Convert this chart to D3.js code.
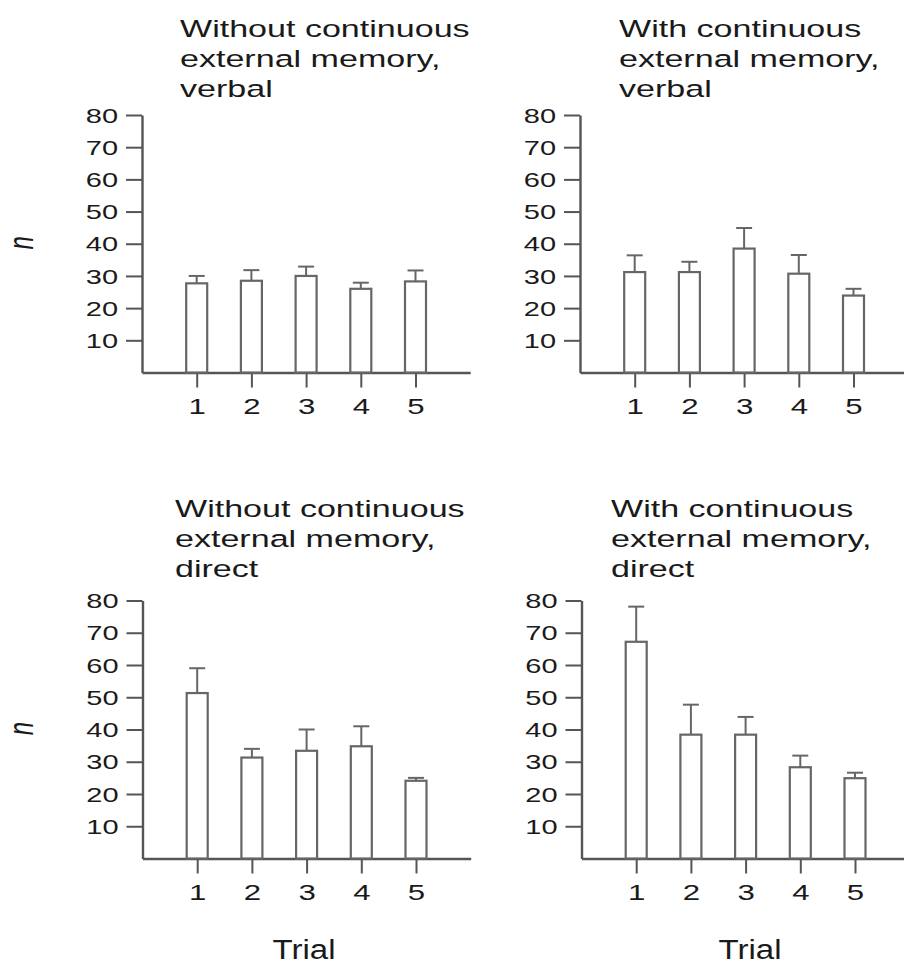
<!DOCTYPE html>
<html>
<head>
<meta charset="utf-8">
<script src="https://cdn.jsdelivr.net/npm/d3@7/dist/d3.min.js"></script>
<style>
  html, body { margin: 0; padding: 0; background: #fff; }
  svg { display: block; }
  text { font-family: "Liberation Sans", Arial, Helvetica, sans-serif; fill: #1a1a1a; }
</style>
</head>
<body>
<svg id="chart" width="904" height="967"></svg>
<script>
// ---------------- data ----------------
const trials = [1, 2, 3, 4, 5];
const yTicks = [10, 20, 30, 40, 50, 60, 70, 80];

const titleWithoutVerbal = ["Without continuous", "external memory,", "verbal"];
const titleWithVerbal    = ["With continuous", "external memory,", "verbal"];
const titleWithoutDirect = ["Without continuous", "external memory,", "direct"];
const titleWithDirect    = ["With continuous", "external memory,", "direct"];

const meanWithoutVerbal = [27.7, 28.5, 30.0, 26.0, 28.3];
const errWithoutVerbal  = [2.3, 3.3, 2.9, 1.9, 3.4];

const meanWithVerbal = [31.2, 31.2, 38.5, 30.7, 23.9];
const errWithVerbal  = [5.2, 3.2, 6.4, 5.8, 2.1];

const meanWithoutDirect = [51.3, 31.3, 33.4, 34.8, 24.1];
const errWithoutDirect  = [7.7, 2.7, 6.6, 6.2, 0.9];

const meanWithDirect = [67.2, 38.4, 38.4, 28.3, 24.9];
const errWithDirect  = [10.9, 9.3, 5.5, 3.6, 1.7];

const yLabel = "n";
const xLabel = "Trial";

// ---------------- layout ----------------
const svg = d3.select("#chart");
const SX = 1.45;            // horizontal stretch of the source lettering
const AXIS_COLOR = "#555";
const BAR_COLOR = "#666";

const panels = [
  { title: titleWithoutVerbal, mean: meanWithoutVerbal, err: errWithoutVerbal,
    ox: 142, y0: 372.5, yTop: 115, tx: 180, tBase: 37, label: true },
  { title: titleWithVerbal, mean: meanWithVerbal, err: errWithVerbal,
    ox: 580, y0: 372.5, yTop: 115, tx: 619, tBase: 37, label: false },
  { title: titleWithoutDirect, mean: meanWithoutDirect, err: errWithoutDirect,
    ox: 142.5, y0: 858.5, yTop: 600.5, tx: 175, tBase: 517, label: true },
  { title: titleWithDirect, mean: meanWithDirect, err: errWithDirect,
    ox: 581.5, y0: 858.5, yTop: 600.5, tx: 611, tBase: 517, label: false }
];

function stretchedText(g, x, y, str, size, sx, anchor, extra) {
  return g.append("text")
    .attr("transform", `translate(${x},${y}) scale(${sx},1)` + (extra || ""))
    .attr("text-anchor", anchor || "start")
    .style("font-size", size + "px")
    .text(str);
}

panels.forEach(p => {
  const g = svg.append("g");
  const x = d3.scaleLinear().domain([0, 6]).range([p.ox, p.ox + 6 * 54.7]);
  const y = d3.scaleLinear().domain([0, 80]).range([p.y0, p.yTop]);

  // title
  p.title.forEach((line, i) => {
    stretchedText(g, p.tx, p.tBase + i * 30, line, 23.5, SX, "start");
  });

  // y axis
  const ya = g.append("g")
    .attr("transform", `translate(${p.ox},0)`)
    .call(d3.axisLeft(y).tickValues(yTicks).tickSize(16).tickSizeOuter(0).tickPadding(5));
  ya.select(".domain").attr("stroke", AXIS_COLOR).attr("stroke-width", 2.4);
  ya.selectAll(".tick line").attr("stroke", AXIS_COLOR).attr("stroke-width", 2);
  ya.selectAll(".tick text")
    .attr("x", null).attr("dy", null)
    .attr("transform", `translate(-24,0) scale(${SX},1)`)
    .attr("dominant-baseline", "central")
    .style("font-size", "20px")
    .style("font-family", '"Liberation Sans", Arial, sans-serif')
    .attr("fill", "#1a1a1a");

  // x axis
  const xa = g.append("g")
    .attr("transform", `translate(0,${p.y0})`)
    .call(d3.axisBottom(x).tickValues(trials).tickSize(15).tickSizeOuter(0).tickFormat(d3.format("d")));
  xa.select(".domain").attr("stroke", AXIS_COLOR).attr("stroke-width", 2.4);
  xa.selectAll(".tick line").attr("stroke", AXIS_COLOR).attr("stroke-width", 2);
  xa.selectAll(".tick text")
    .attr("y", null).attr("dy", null)
    .attr("transform", `translate(0,41) scale(${SX},1)`)
    .style("font-size", "21.5px")
    .style("font-family", '"Liberation Sans", Arial, sans-serif')
    .attr("fill", "#1a1a1a");

  const bw = 21, cap = 16;
  const data = trials.map((t, i) => ({ t, m: p.mean[i], e: p.err[i] }));

  // error bars (drawn behind bars)
  g.selectAll(".err").data(data).join("line")
    .attr("x1", d => x(d.t)).attr("x2", d => x(d.t))
    .attr("y1", d => y(d.m)).attr("y2", d => y(d.m + d.e))
    .attr("stroke", BAR_COLOR).attr("stroke-width", 2);
  g.selectAll(".cap").data(data).join("line")
    .attr("x1", d => x(d.t) - cap / 2).attr("x2", d => x(d.t) + cap / 2)
    .attr("y1", d => y(d.m + d.e)).attr("y2", d => y(d.m + d.e))
    .attr("stroke", BAR_COLOR).attr("stroke-width", 2);

  // bars
  g.selectAll(".bar").data(data).join("rect")
    .attr("x", d => x(d.t) - bw / 2)
    .attr("y", d => y(d.m))
    .attr("width", bw)
    .attr("height", d => y(0) - y(d.m))
    .attr("fill", "#fff")
    .attr("stroke", BAR_COLOR).attr("stroke-width", 2.2);

  // y label
  if (p.label) {
    stretchedText(g, 33, (p.y0 + p.yTop) / 2 - 1, yLabel, 24, SX, "middle", " rotate(-90)")
      .style("font-style", "italic");
  }
});

// x-axis titles
stretchedText(svg, 304, 959, xLabel, 28, 1.18, "middle");
stretchedText(svg, 750, 959, xLabel, 28, 1.18, "middle");
</script>
</body>
</html>
